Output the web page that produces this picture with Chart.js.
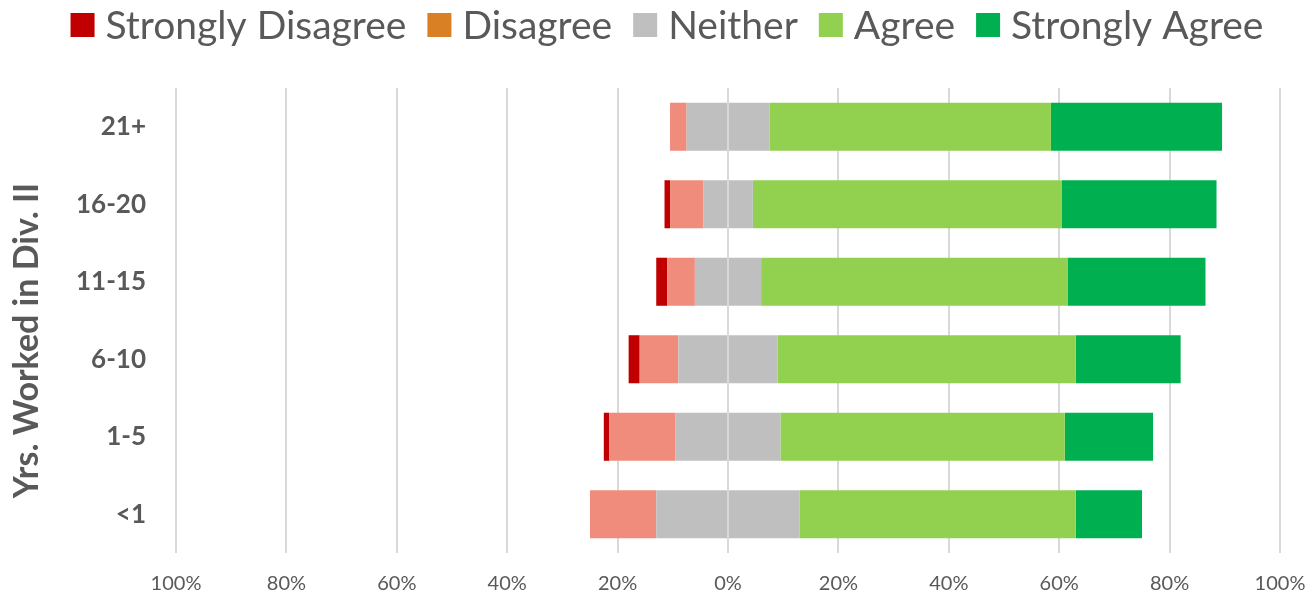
<!DOCTYPE html>
<html>
<head>
<meta charset="utf-8">
<script src="https://cdn.jsdelivr.net/npm/chart.js@4"></script>
<style>
html,body{margin:0;padding:0;background:#fff;}
#wrap{width:1309px;height:595px;position:relative;}
</style>
</head>
<body>
<div id="wrap"><canvas id="c" width="1309" height="595"></canvas></div>
<script>
const categories = ['21+', '16-20', '11-15', '6-10', '1-5', '<1'];
const stronglyDisagree = [0, 1, 2, 2, 1, 0];
const disagree = [3, 6, 5, 7, 12, 12];
const neither = [15, 9, 12, 18, 19, 26];
const agree = [51, 56, 55.5, 54, 51.5, 50];
const stronglyAgree = [31, 28, 25, 19, 16, 12];
const xTicks = [-100, -80, -60, -40, -20, 0, 20, 40, 60, 80, 100];
const legendNames = ['Strongly Disagree', 'Disagree', 'Neither', 'Agree', 'Strongly Agree'];
const yTitle = 'Yrs. Worked in Div. II';

const C_SD = '#C00000', C_D_BAR = '#F08C7C', C_D_LEG = '#D98024', C_N = '#BFBFBF', C_A = '#92D050', C_SA = '#00B050';
const legendColors = [C_SD, C_D_LEG, C_N, C_A, C_SA];
const FONT = 'Lato, "Open Sans", sans-serif';
const TXT = '#595959';

const neg = a => a.map(v => -v);
const half = a => a.map(v => v / 2);

// Legend drawn at top (library legend has fixed box/text gap)
const topLegend = {
  id: 'topLegend',
  afterDraw(chart) {
    const ctx = chart.ctx;
    ctx.save();
    ctx.font = '39px ' + FONT;
    const box = 24, gap = 11, spacing = 21, cy = 25;
    const widths = legendNames.map(n => ctx.measureText(n).width);
    const total = widths.reduce((a, w) => a + box + gap + w, 0) + spacing * (legendNames.length - 1);
    let x = 667 - total / 2;
    ctx.textBaseline = 'middle';
    ctx.textAlign = 'left';
    legendNames.forEach((n, i) => {
      ctx.fillStyle = legendColors[i];
      ctx.fillRect(x, cy - box / 2, box, box);
      x += box + gap;
      ctx.fillStyle = TXT;
      ctx.fillText(n, x, cy + 1);
      x += widths[i] + spacing;
    });
    ctx.restore();
  }
};

// Y-axis title drawn slightly below the plot centre, as in the reference
const yTitlePlugin = {
  id: 'yTitle',
  afterDraw(chart) {
    const ctx = chart.ctx;
    const a = chart.chartArea;
    ctx.save();
    ctx.font = 'bold 34px ' + FONT;
    ctx.fillStyle = TXT;
    ctx.textAlign = 'center';
    ctx.textBaseline = 'middle';
    ctx.translate(27, (a.top + a.bottom) / 2 + 20);
    ctx.rotate(-Math.PI / 2);
    ctx.fillText(yTitle, 0, 0);
    ctx.restore();
  }
};

new Chart(document.getElementById('c'), {
  type: 'bar',
  data: {
    labels: categories,
    datasets: [
      { label: 'Neither', data: neg(half(neither)), backgroundColor: C_N },
      { label: 'Disagree', data: neg(disagree), backgroundColor: C_D_BAR },
      { label: 'Strongly Disagree', data: neg(stronglyDisagree), backgroundColor: C_SD },
      { label: 'Neither', data: half(neither), backgroundColor: C_N },
      { label: 'Agree', data: agree, backgroundColor: C_A },
      { label: 'Strongly Agree', data: stronglyAgree, backgroundColor: C_SA }
    ]
  },
  options: {
    indexAxis: 'y',
    responsive: false,
    animation: false,
    devicePixelRatio: 1,
    layout: { padding: { left: 0, right: 29, top: 88, bottom: 0 } },
    datasets: { bar: { categoryPercentage: 1, barPercentage: 0.62, borderWidth: 0 } },
    plugins: {
      tooltip: { enabled: false },
      legend: { display: false }
    },
    scales: {
      x: {
        stacked: true,
        min: -100, max: 100,
        afterBuildTicks(s) { s.ticks = xTicks.map(v => ({ value: v })); },
        afterFit(s) { s.height = 42; s.paddingLeft = 0; s.paddingRight = 0; },
        ticks: {
          callback: v => Math.abs(v) + '%',
          font: { family: FONT, size: 20 },
          color: TXT,
          padding: 19,
          maxRotation: 0
        },
        grid: { color: '#D9D9D9', lineWidth: 2, drawTicks: false },
        border: { display: false }
      },
      y: {
        stacked: true,
        afterFit(s) { s.width = 176; },
        ticks: {
          font: { family: FONT, size: 26, weight: 'bold' },
          color: TXT,
          padding: 22
        },
        grid: { display: false },
        border: { display: false },
        title: { display: false }
      }
    }
  },
  plugins: [topLegend, yTitlePlugin]
});
</script>
</body>
</html>
